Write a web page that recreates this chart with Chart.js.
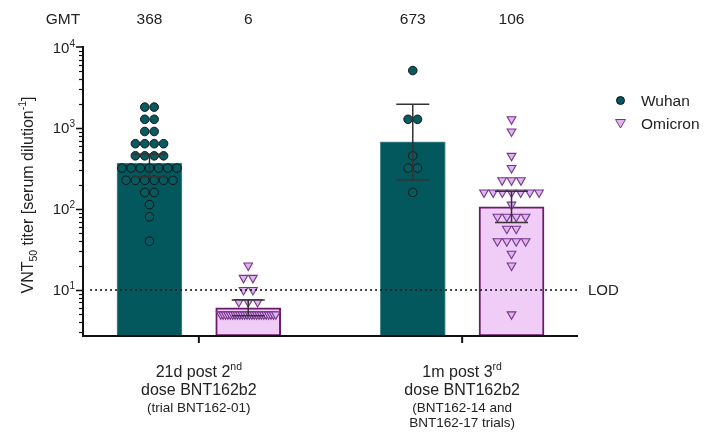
<!DOCTYPE html>
<html>
<head>
<meta charset="utf-8">
<script src="https://cdn.jsdelivr.net/npm/chart.js@4.4.1/dist/chart.umd.min.js"></script>
<style>
  body { margin: 0; background: #fff; }
</style>
</head>
<body>
<canvas id="chart" width="704" height="433"></canvas>
<script>
// values (titers sit on sqrt(2) dilution steps)
const variants = ['Wuhan', 'Omicron'];
const gmt = [368, 6, 673, 106];
const ciLow = [250, 4.8, 228, 68];
const ciHigh = [473, 7.5, 1960, 165];

const wuhan21d = [1810, 1810, 1280, 1280, 905, 905, 640, 640, 640, 640, 453, 453, 453, 453,
  320, 320, 320, 320, 320, 320, 320, 226, 226, 226, 226, 226, 226, 160, 160, 113, 80, 40];
const omicron21d = [20, 14.1, 14.1, 10, 10, 7.1, 7.1, 7.1,
  5, 5, 5, 5, 5, 5, 5, 5, 5, 5, 5, 5, 5, 5, 5, 5, 5, 5, 5, 5, 5, 5, 5, 5];
const wuhan1m = [5120, 1280, 1280, 453, 320, 320, 160];
const omicron1m = [1280, 905, 453, 320, 226, 226, 226, 160, 160, 160, 160, 160, 160, 160,
  113, 80, 80, 80, 80, 57, 57, 40, 40, 40, 40, 28, 20, 5];

const lod = 10;
const yMin = 2.7, yMax = 10000;
const yTickValues = [10, 100, 1000, 10000];
const yTickExp = ['1', '2', '3', '4'];

const FONT = '"Liberation Sans", Arial, sans-serif';
const TEAL = '#03585d';
const LILAC = '#efcdf7';
const PURPLE = '#6a1b6a';

// x layout: groups at 1 and 2, Wuhan left, Omicron right
const barOff = 0.1875;
function barX(i) { return Math.floor(i / 2) + 1 + (i % 2 ? barOff : -barOff); }

// simple GraphPad-like swarm: equal values spread in a centred row
function swarm(values, center) {
  const step = 0.0357, maxW = 0.209;
  const counts = {}, seen = {};
  values.forEach(v => counts[v] = (counts[v] || 0) + 1);
  return values.map(v => {
    const n = counts[v];
    seen[v] = seen[v] === undefined ? 0 : seen[v] + 1;
    const sp = n > 1 ? Math.min(step, maxW / (n - 1)) : 0;
    return { x: center + (seen[v] - (n - 1) / 2) * sp, y: v };
  });
}

function rich(ctx, parts, x, y, align) {
  let w = 0;
  parts.forEach(p => { ctx.font = p[1] + 'px ' + FONT; w += ctx.measureText(p[0]).width; });
  let cx = align === 'center' ? x - w / 2 : align === 'right' ? x - w : x;
  ctx.textAlign = 'left';
  ctx.textBaseline = 'alphabetic';
  parts.forEach(p => {
    ctx.font = p[1] + 'px ' + FONT;
    ctx.fillText(p[0], cx, y - (p[2] || 0));
    cx += ctx.measureText(p[0]).width;
  });
}

const decor = {
  id: 'decor',
  afterDatasetsDraw(chart) {
    const { ctx, chartArea: a, scales: { x, y } } = chart;
    ctx.save();
    // LOD line
    const ly = y.getPixelForValue(lod);
    ctx.strokeStyle = '#1a1a1a';
    ctx.lineWidth = 2;
    ctx.lineCap = 'round';
    ctx.setLineDash([0.1, 4.9]);
    ctx.beginPath(); ctx.moveTo(a.left + 8, ly); ctx.lineTo(a.right, ly); ctx.stroke();
    ctx.setLineDash([]);
    ctx.lineCap = 'butt';
    // error bars
    ctx.strokeStyle = '#333';
    ctx.lineWidth = 1.5;
    gmt.forEach((g, i) => {
      const px = x.getPixelForValue(barX(i));
      const t = y.getPixelForValue(ciHigh[i]), b = y.getPixelForValue(ciLow[i]);
      ctx.beginPath();
      ctx.moveTo(px, t); ctx.lineTo(px, b);
      ctx.moveTo(px - 16.5, t); ctx.lineTo(px + 16.5, t);
      ctx.moveTo(px - 16.5, b); ctx.lineTo(px + 16.5, b);
      ctx.stroke();
    });
    ctx.restore();
  },
  afterDraw(chart) {
    const { ctx, chartArea: a, scales: { x, y } } = chart;
    ctx.save();
    ctx.fillStyle = '#222';
    ctx.strokeStyle = '#111';
    // axes
    ctx.lineWidth = 2;
    ctx.beginPath();
    ctx.moveTo(a.left, a.top - 1); ctx.lineTo(a.left, a.bottom);
    ctx.lineTo(a.right, a.bottom);
    ctx.stroke();
    // y ticks
    for (let d = 0; d < 4; d++) {
      for (let m = 1; m <= 9; m++) {
        const v = m * Math.pow(10, d);
        if (v < yMin || v > yMax) continue;
        const py = Math.round(y.getPixelForValue(v)) + 0.5;
        ctx.lineWidth = m === 1 ? 1.6 : 1.2;
        ctx.beginPath(); ctx.moveTo(a.left - (m === 1 ? 7 : 4), py); ctx.lineTo(a.left, py); ctx.stroke();
      }
    }
    ctx.lineWidth = 1.6;
    ctx.beginPath(); ctx.moveTo(a.left - 7, a.top); ctx.lineTo(a.left, a.top); ctx.stroke();
    yTickValues.forEach((v, i) => {
      const py = y.getPixelForValue(v);
      rich(ctx, [['10', 15], [yTickExp[i], 10, 6]], a.left - 8, py + 5.5, 'right');
    });
    // x ticks
    ctx.lineWidth = 2;
    [1, 2].forEach(g => {
      const px = x.getPixelForValue(g);
      ctx.beginPath(); ctx.moveTo(px, a.bottom); ctx.lineTo(px, a.bottom + 7); ctx.stroke();
    });
    // x labels
    const g1 = x.getPixelForValue(1), g2 = x.getPixelForValue(2);
    rich(ctx, [['21d post 2', 16], ['nd', 10.5, 7]], g1, 377, 'center');
    rich(ctx, [['dose BNT162b2', 16]], g1, 395, 'center');
    rich(ctx, [['(trial BNT162-01)', 13.5]], g1, 412, 'center');
    rich(ctx, [['1m post 3', 16], ['rd', 10.5, 7]], g2, 377, 'center');
    rich(ctx, [['dose BNT162b2', 16]], g2, 395, 'center');
    rich(ctx, [['(BNT162-14 and', 13.5]], g2, 412, 'center');
    rich(ctx, [['BNT162-17 trials)', 13.5]], g2, 427, 'center');
    // LOD label
    rich(ctx, [['LOD', 15]], a.right + 10, y.getPixelForValue(lod) + 5.5, 'left');
    // GMT row
    rich(ctx, [['GMT', 15.5]], 63, 24, 'center');
    gmt.forEach((g, i) => rich(ctx, [[String(g), 15.5]], x.getPixelForValue(barX(i)), 24, 'center'));
    // y title
    ctx.save();
    ctx.translate(33, 195);
    ctx.rotate(-Math.PI / 2);
    rich(ctx, [['VNT', 16], ['50', 10.5, -4], [' titer [serum dilution', 16], ['-1', 10.5, 7], [']', 16]], 0, 0, 'center');
    ctx.restore();
    // legend
    ctx.lineWidth = 1;
    ctx.fillStyle = TEAL; ctx.strokeStyle = '#111';
    ctx.beginPath(); ctx.arc(620.5, 100.5, 4, 0, Math.PI * 2); ctx.fill(); ctx.stroke();
    ctx.fillStyle = '#dfb5ef'; ctx.strokeStyle = '#76358c';
    ctx.beginPath(); ctx.moveTo(615.5, 119.5); ctx.lineTo(625.5, 119.5); ctx.lineTo(620.5, 128); ctx.closePath();
    ctx.fill(); ctx.stroke();
    ctx.fillStyle = '#222';
    rich(ctx, [[variants[0], 15.5]], 641, 106, 'left');
    rich(ctx, [[variants[1], 15.5]], 641, 129, 'left');
    ctx.restore();
  }
};

const circleStyle = {
  type: 'scatter', pointStyle: 'circle', pointRadius: 4.3,
  backgroundColor: '#075a60', borderColor: '#151515', borderWidth: 1, order: 1
};
const triStyle = {
  type: 'scatter', pointStyle: 'triangle', rotation: 180, pointRadius: 5,
  backgroundColor: '#dfb5ef', borderColor: '#76358c', borderWidth: 1.1, order: 1
};

new Chart(document.getElementById('chart'), {
  type: 'bar',
  data: {
    datasets: [
      Object.assign({ label: 'Wuhan 21d', data: swarm(wuhan21d, barX(0)) }, circleStyle),
      Object.assign({ label: 'Omicron 21d', data: swarm(omicron21d, barX(1)) }, triStyle),
      Object.assign({ label: 'Wuhan 1m', data: swarm(wuhan1m, barX(2)) }, circleStyle),
      Object.assign({ label: 'Omicron 1m', data: swarm(omicron1m, barX(3)) }, triStyle),
      {
        type: 'bar',
        label: 'GMT',
        data: gmt.map((g, i) => ({ x: barX(i), y: g })),
        backgroundColor: [TEAL, LILAC, TEAL, LILAC],
        borderColor: ['#4f8d90', PURPLE, '#4f8d90', PURPLE],
        borderWidth: [1, 2, 1, 2],
        borderSkipped: false,
        barThickness: 65,
        base: yMin,
        order: 2
      }
    ]
  },
  options: {
    responsive: false,
    animation: false,
    events: [],
    layout: { padding: { left: 83, right: 126, top: 47, bottom: 97 } },
    plugins: { legend: { display: false }, tooltip: { enabled: false } },
    scales: {
      x: { type: 'linear', min: 0.56, max: 2.44, offset: false, display: false },
      y: { type: 'logarithmic', min: yMin, max: yMax, display: false }
    }
  },
  plugins: [decor]
});
</script>
</body>
</html>
